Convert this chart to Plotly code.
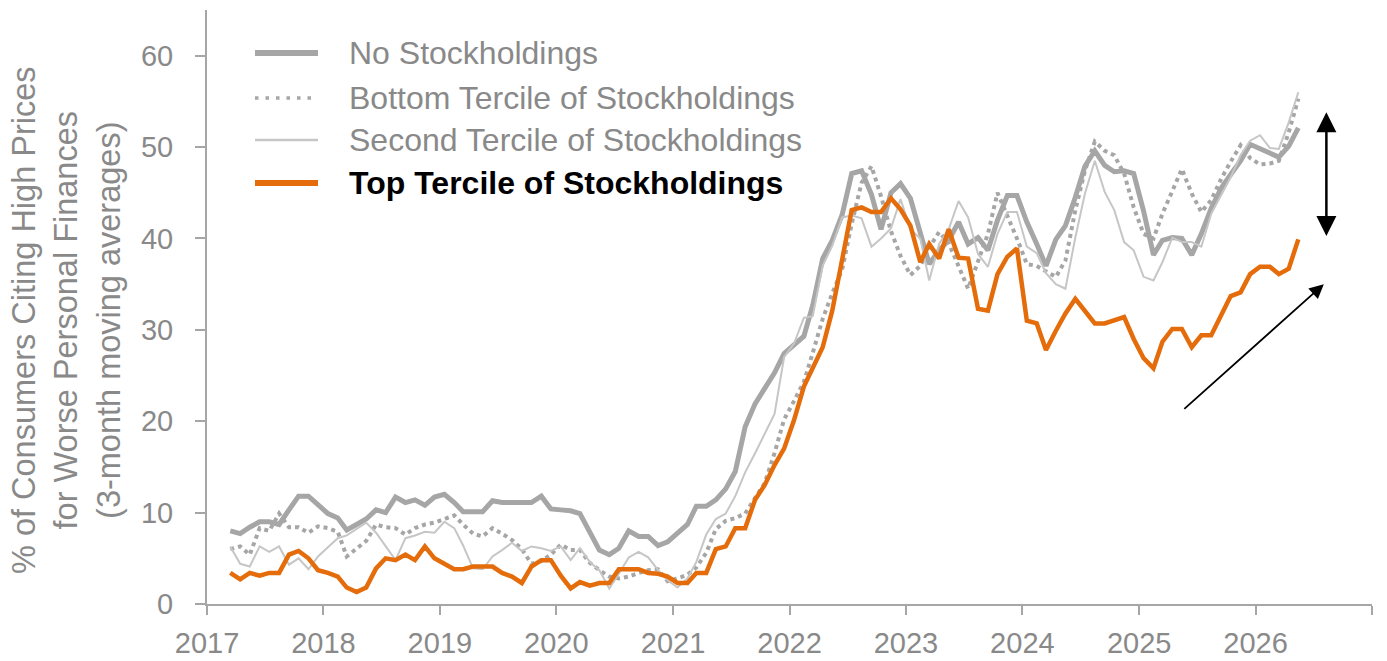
import pandas as pd
import plotly.graph_objects as go

# ---------------- data (monthly, 3-month moving averages, %) ----------------
start_month = "2017-03-01"
n_months = 111

no_stock = [
    8.0, 7.7, 8.4, 9.0, 9.0, 8.7, 10.3, 11.8, 11.8, 10.8,
    9.9, 9.4, 8.1, 8.7, 9.3, 10.3, 10.0, 11.7, 11.1, 11.4,
    10.8, 11.7, 12.0, 11.1, 10.1, 10.1, 10.1, 11.3, 11.1, 11.1,
    11.1, 11.1, 11.8, 10.4, 10.3, 10.2, 9.9, 7.9, 5.9, 5.4,
    6.1, 8.0, 7.4, 7.4, 6.4, 6.8, 7.8, 8.7, 10.7, 10.7,
    11.4, 12.6, 14.5, 19.4, 21.9, 23.6, 25.3, 27.4, 28.4, 29.3,
    32.7, 37.8, 39.8, 42.6, 47.1, 47.4, 44.8, 41.0, 45.0, 46.0,
    44.4, 40.6, 37.2, 38.7, 39.8, 41.8, 39.4, 40.1, 38.7, 42.0,
    44.7, 44.7, 41.8, 39.4, 37.0, 39.9, 41.4, 44.5, 47.9, 49.6,
    48.0, 47.3, 47.4, 47.1, 43.0, 38.2, 39.8, 40.1, 40.0, 38.2,
    40.5, 43.3, 45.5, 47.0, 48.5, 50.3, 49.8, 49.4, 48.9, 50.1, 52.1,
]

bottom_tercile = [
    6.0, 6.3, 5.4, 8.3, 8.0, 9.9, 8.4, 8.4, 7.8, 8.5,
    8.3, 7.9, 5.2, 6.0, 6.9, 8.7, 8.4, 8.3, 7.6, 8.3,
    8.7, 8.9, 9.3, 9.7, 8.7, 7.7, 7.4, 8.3, 7.7, 7.0,
    6.0, 4.4, 4.7, 5.4, 6.5, 5.9, 5.9, 4.5, 3.7, 3.0,
    2.8, 3.0, 3.4, 3.7, 3.8, 2.5, 2.8, 3.2, 4.0, 5.6,
    8.2, 9.1, 9.4, 9.9, 11.6, 13.2, 16.5, 20.2, 22.2, 24.3,
    27.5, 31.2, 34.0, 36.6, 41.6, 46.1, 47.9, 44.6, 40.8, 38.1,
    36.0, 37.0, 39.0, 40.7, 39.5, 37.0, 34.5, 37.5, 40.5, 45.0,
    42.5, 40.0, 37.2, 37.0, 36.4, 35.8, 37.6, 43.1, 47.4, 50.6,
    49.6, 49.1, 47.1, 43.4, 40.5, 40.0, 42.7, 45.1, 47.6, 44.9,
    42.9, 44.2, 46.5, 48.4, 50.2, 48.8, 48.1, 48.2, 48.5, 51.6, 55.3,
]

second_tercile = [
    6.3, 4.4, 4.1, 6.3, 5.7, 6.3, 4.3, 5.0, 3.8, 5.2,
    6.2, 7.2, 7.5, 8.2, 8.9, 7.8, 6.3, 4.8, 7.2, 7.5,
    7.9, 7.8, 9.0, 8.3, 6.4, 3.9, 3.8, 5.2, 5.9, 6.7,
    5.8, 6.3, 6.1, 5.8, 6.3, 4.8, 6.1, 4.6, 3.7, 1.7,
    3.3, 5.1, 5.7, 5.1, 3.7, 2.6, 1.8, 2.8, 4.6, 7.6,
    9.3, 9.9, 11.8, 14.4, 16.5, 18.6, 20.8, 27.0, 28.5, 31.3,
    31.5, 37.0, 39.2, 42.3, 42.5, 42.2, 39.1, 40.0, 41.1, 44.3,
    41.0, 40.0, 35.4, 39.4, 41.0, 44.1, 42.3, 38.3, 36.9, 40.5,
    42.9, 42.9, 39.1, 38.4, 36.2, 35.0, 34.5, 40.1, 44.9, 48.5,
    45.1, 43.1, 39.6, 38.7, 35.8, 35.4, 37.4, 40.1, 39.6, 39.6,
    39.1, 42.7, 44.7, 46.7, 49.1, 50.7, 51.3, 49.9, 49.8, 52.7, 56.0,
]

top_tercile = [
    3.4, 2.7, 3.4, 3.1, 3.4, 3.4, 5.4, 5.8, 5.0, 3.7,
    3.4, 3.0, 1.8, 1.3, 1.8, 3.9, 5.0, 4.8, 5.4, 4.8,
    6.3, 5.0, 4.4, 3.8, 3.8, 4.1, 4.1, 4.1, 3.4, 3.0,
    2.3, 4.1, 4.8, 4.8, 3.1, 1.7, 2.4, 2.0, 2.3, 2.3,
    3.8, 3.8, 3.8, 3.4, 3.3, 3.0, 2.3, 2.3, 3.4, 3.4,
    6.0, 6.3, 8.3, 8.3, 11.4, 13.0, 15.2, 17.0, 20.1, 23.8,
    25.9, 28.1, 32.1, 37.4, 43.1, 43.4, 42.9, 42.9, 44.4, 43.2,
    41.4, 37.4, 39.4, 37.8, 41.0, 37.9, 37.8, 32.3, 32.1, 36.1,
    38.0, 38.9, 31.0, 30.7, 27.8, 29.9, 31.8, 33.4, 32.1, 30.7,
    30.7, 31.1, 31.4, 29.0, 26.9, 25.8, 28.7, 30.1, 30.1, 28.1,
    29.4, 29.4, 31.6, 33.7, 34.1, 36.1, 36.9, 36.9, 36.1, 36.7, 39.9,
]

series_names = [
    "No Stockholdings",
    "Bottom Tercile of Stockholdings",
    "Second Tercile of Stockholdings",
    "Top Tercile of Stockholdings",
]

year_ticks = list(range(2017, 2028))
year_labels = [str(y) for y in range(2017, 2027)] + [""]
y_ticks = [0, 10, 20, 30, 40, 50, 60]

y_title = ("% of Consumers Citing High Prices<br>"
           "for Worse Personal Finances<br>"
           "(3-month moving averages)")

# ---------------- styling ----------------
FONT = "Liberation Sans, Arial, sans-serif"
GRAY_TXT = "#898989"
AXIS = "#A6A6A6"
C_NO = "#A6A6A6"
C_BOT = "#A6A6A6"
C_SEC = "#C6C6C6"
C_TOP = "#E46C0A"

dates = pd.date_range(start_month, periods=n_months, freq="MS") + pd.Timedelta(days=14)

fig = go.Figure()
styles = [
    dict(color=C_NO, width=5),
    dict(color=C_BOT, width=4, dash="4px,4px"),
    dict(color=C_SEC, width=2),
    dict(color=C_TOP, width=4.5),
]
for name, vals, st in zip(series_names, [no_stock, bottom_tercile, second_tercile, top_tercile], styles):
    fig.add_trace(go.Scatter(x=dates, y=vals, mode="lines", name=name,
                             line=st, showlegend=False, hoverinfo="x+y+name"))

# plot-area geometry helpers (pixels -> paper)
W, H = 1387, 661
ML, MR, MT, MB = 207, 15, 10, 57
PW, PH = W - ML - MR, H - MT - MB


def px(xp):
    return (xp - ML) / PW


def py(yp):
    return (H - MB - yp) / PH


# manual legend
leg_rows = [53, 98, 140, 183]
leg_styles = [
    dict(color=C_NO, width=6),
    dict(color=C_BOT, width=3.5, dash="3.5px,7px"),
    dict(color=C_SEC, width=2.5),
    dict(color=C_TOP, width=6),
]
for i, (name, row, st) in enumerate(zip(series_names, leg_rows, leg_styles)):
    fig.add_shape(type="line", xref="paper", yref="paper",
                  x0=px(255), x1=px(318), y0=py(row), y1=py(row), line=st)
    bold = (i == 3)
    fig.add_annotation(xref="paper", yref="paper", x=px(347), y=py(row),
                       xanchor="left", yanchor="middle", showarrow=False,
                       text=("<b>%s</b>" % name) if bold else name,
                       font=dict(family=FONT, size=32,
                                 color="#000000" if bold else GRAY_TXT))

# y-axis title as rotated annotation
fig.add_annotation(xref="paper", yref="paper", x=px(66), y=py(320),
                   xanchor="center", yanchor="middle", showarrow=False,
                   textangle=-90, text=y_title,
                   font=dict(family=FONT, size=32.5, color=GRAY_TXT))

# arrows
fig.add_annotation(x="2026-08-11", y=53.8, ax="2026-08-11", ay=40.1,
                   xref="x", yref="y", axref="x", ayref="y", text="",
                   showarrow=True, arrowhead=2, startarrowhead=2,
                   arrowside="end+start", arrowsize=1.6, startarrowsize=1.6,
                   arrowwidth=2.5, arrowcolor="#000000", standoff=0, startstandoff=0)
fig.add_annotation(x="2026-08-03", y=35.0, ax="2025-05-18", ay=21.2,
                   xref="x", yref="y", axref="x", ayref="y", text="",
                   showarrow=True, arrowhead=2, arrowsize=1.6,
                   arrowwidth=1.8, arrowcolor="#000000", standoff=0)

fig.update_layout(
    width=W, height=H,
    margin=dict(l=ML, r=MR, t=MT, b=MB, pad=0, autoexpand=False),
    paper_bgcolor="white", plot_bgcolor="white",
    font=dict(family=FONT, color=GRAY_TXT),
    showlegend=False,
    xaxis=dict(
        type="date",
        range=["2017-01-01", "2027-01-01"],
        tickvals=["%d-01-01" % y for y in year_ticks],
        ticktext=year_labels,
        showline=True, linecolor=AXIS, linewidth=2,
        ticks="outside", ticklen=9, tickwidth=2, tickcolor=AXIS,
        showgrid=False, zeroline=False, automargin=False,
        tickfont=dict(family=FONT, size=29, color=GRAY_TXT),
        ticklabelstandoff=3,
    ),
    yaxis=dict(
        range=[0, 65],
        tickvals=y_ticks,
        showline=True, linecolor=AXIS, linewidth=2,
        ticks="outside", ticklen=10, tickwidth=2, tickcolor=AXIS,
        showgrid=False, zeroline=False, automargin=False,
        tickfont=dict(family=FONT, size=29, color=GRAY_TXT),
        ticklabelstandoff=16,
    ),
)

fig.write_html("out.html", config={"displayModeBar": False},
               post_script="document.body.style.margin='0px';")
